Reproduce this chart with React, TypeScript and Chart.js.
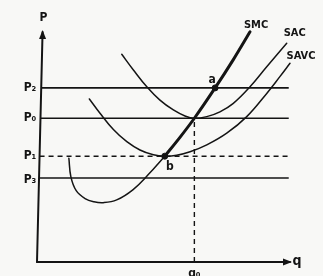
import React, { useEffect, useRef } from "react";
import { Chart, registerables } from "chart.js";

Chart.register(...registerables);

// Price levels (horizontal lines) and their labels
const priceLabels = ["P₂", "P₀", "P₁", "P₃"];
const priceValues = [75.7, 62.5, 46, 36.5];
const priceDashed = [false, false, true, false];
const lineEndQ = 99.5;

// Quantity q0
const q0Label = "q₀";
const q0 = 62.2;

// Axis slant of the scanned vertical axis (x offset at top)
const axisTopQ = 2.2;

// SMC curve
const smcQ = [12.6, 13.4, 15.5, 19.0, 22.5, 26.2, 31.5, 38.0, 44.0, 50.5, 56.5, 62.2, 70.4, 77.6, 84.2];
const smcP = [45.1, 37.0, 31.0, 27.6, 26.2, 25.8, 27.0, 31.5, 38.0, 46.0, 54.2, 62.5, 75.7, 88.0, 100.1];
const smcThickFrom = 9;

// SAC curve
const sacQ = [33.5, 38.1, 43.4, 48.6, 53.9, 58.5, 62.2, 67.1, 72.3, 77.6, 84.2, 90.8, 98.7];
const sacP = [90.3, 83.5, 76.2, 70.4, 66.1, 63.5, 62.5, 63.2, 65.3, 69.0, 76.2, 84.9, 95.1];

// SAVC curve
const savcQ = [20.7, 24.9, 30.2, 35.5, 40.7, 46.0, 50.5, 55.2, 60.5, 67.1, 75.0, 82.9, 90.8, 96.0, 100];
const savcP = [70.9, 64.7, 57.6, 52.3, 48.7, 46.6, 46.0, 46.4, 47.9, 50.9, 56.0, 63.2, 73.3, 80.6, 86.4];

// Marked points
const pointNames = ["a", "b"];
const pointQ = [70.4, 50.5];
const pointP = [75.7, 46.0];

const curveNames = ["SMC", "SAC", "SAVC"];

const INK = "#141414";
const FONT = '"Liberation Sans Narrow", "DejaVu Sans Condensed", "Liberation Sans", sans-serif';

const zip = (xs: number[], ys: number[]) => xs.map((x, i) => ({ x, y: ys[i] }));

export default function App() {
  const ref = useRef<HTMLCanvasElement | null>(null);

  useEffect(() => {
    if (!ref.current) return;
    const line = (data: any[], width: number, dash: number[] = [], tension = 0) => ({
      type: "scatter" as const,
      data,
      showLine: true,
      borderColor: INK,
      borderWidth: width,
      borderDash: dash,
      pointRadius: 0,
      tension,
      borderCapStyle: "round" as const,
      clip: false as any,
    });

    const datasets: any[] = [];
    // axes
    datasets.push(line([{ x: 0, y: 0 }, { x: 100, y: 0 }], 2));
    datasets.push(line([{ x: 0, y: 0 }, { x: axisTopQ, y: 100 }], 2));
    // price lines
    priceValues.forEach((p, i) => {
      const startQ = (axisTopQ * p) / 100;
      datasets.push({ ...line([{ x: startQ, y: p }, { x: lineEndQ, y: p }], 1.6, priceDashed[i] ? [5, 4] : []), borderCapStyle: "butt" });
    });
    // q0 dashed vertical
    datasets.push({ ...line([{ x: q0, y: 0 }, { x: q0, y: priceValues[1] }], 1.4, [5, 4]), borderCapStyle: "butt" });
    // curves
    datasets.push(line(zip(sacQ, sacP), 1.5, [], 0.4));
    datasets.push(line(zip(savcQ, savcP), 1.5, [], 0.4));
    datasets.push(line(zip(smcQ.slice(0, smcThickFrom + 1), smcP.slice(0, smcThickFrom + 1)), 1.5, [], 0.4));
    datasets.push(line(zip(smcQ.slice(smcThickFrom), smcP.slice(smcThickFrom)), 3, [], 0.3));
    // points
    datasets.push({
      type: "scatter",
      data: zip(pointQ, pointP),
      pointRadius: 3,
      pointBackgroundColor: INK,
      pointBorderColor: INK,
      showLine: false,
      clip: false,
    });

    const labelsPlugin = {
      id: "labels",
      afterDatasetsDraw(chart: any) {
        const ctx = chart.ctx;
        const xs = chart.scales.x;
        const ys = chart.scales.y;
        const px = (v: number) => xs.getPixelForValue(v);
        const py = (v: number) => ys.getPixelForValue(v);
        ctx.save();
        ctx.fillStyle = INK;
        // arrowheads
        const yTipX = px(axisTopQ);
        const yTipY = py(100);
        ctx.beginPath();
        ctx.moveTo(yTipX, yTipY - 2);
        ctx.lineTo(yTipX - 3.5, yTipY + 7);
        ctx.lineTo(yTipX + 3.5, yTipY + 7);
        ctx.closePath();
        ctx.fill();
        const xTipX = px(100);
        const xTipY = py(0);
        ctx.beginPath();
        ctx.moveTo(xTipX + 2, xTipY);
        ctx.lineTo(xTipX - 7, xTipY - 3.5);
        ctx.lineTo(xTipX - 7, xTipY + 3.5);
        ctx.closePath();
        ctx.fill();

        ctx.textAlign = "center";
        ctx.textBaseline = "middle";
        // axis names
        ctx.font = `bold 12px ${FONT}`;
        ctx.fillText("P", yTipX + 1, yTipY - 14);
        ctx.font = `bold 14px ${FONT}`;
        ctx.fillText("q", xTipX + 7, xTipY - 1);
        // price labels
        ctx.font = `bold 12px ${FONT}`;
        priceLabels.forEach((l, i) => {
          ctx.fillText(l, 30, py(priceValues[i]) + (i === 3 ? 2 : 0));
        });
        // q0 label
        ctx.fillText(q0Label, px(q0), py(0) + 12);
        // curve labels
        ctx.font = `bold 11px ${FONT}`;
        const ends = [
          [smcQ[smcQ.length - 1], smcP[smcP.length - 1], 6, -7],
          [sacQ[sacQ.length - 1], sacP[sacP.length - 1], 8, -10],
          [savcQ[savcQ.length - 1], savcP[savcP.length - 1], 11, -7],
        ];
        curveNames.forEach((n, i) => {
          const [q, p, dx, dy] = ends[i];
          ctx.fillText(n, px(q) + dx, py(p) + dy);
        });
        // point labels
        ctx.font = `bold 12px ${FONT}`;
        const offs = [[-3, -8], [5, 11]];
        pointNames.forEach((n, i) => {
          ctx.fillText(n, px(pointQ[i]) + offs[i][0], py(pointP[i]) + offs[i][1]);
        });
        ctx.restore();
      },
    };

    const chart = new Chart(ref.current, {
      type: "scatter",
      data: { datasets },
      options: {
        animation: false,
        responsive: false,
        maintainAspectRatio: false,
        events: [],
        layout: { padding: { left: 37, right: 33, top: 32, bottom: 14 } },
        plugins: { legend: { display: false }, tooltip: { enabled: false } },
        scales: {
          x: { type: "linear", min: 0, max: 100, display: false },
          y: { type: "linear", min: 0, max: 100, display: false },
        },
      },
      plugins: [labelsPlugin],
    });
    return () => chart.destroy();
  }, []);

  return (
    <div style={{ position: "fixed", left: 0, top: 0, width: 323, height: 276, background: "#f8f8f6" }}>
      <canvas ref={ref} width={323} height={276} style={{ width: 323, height: 276, display: "block" }} />
    </div>
  );
}
